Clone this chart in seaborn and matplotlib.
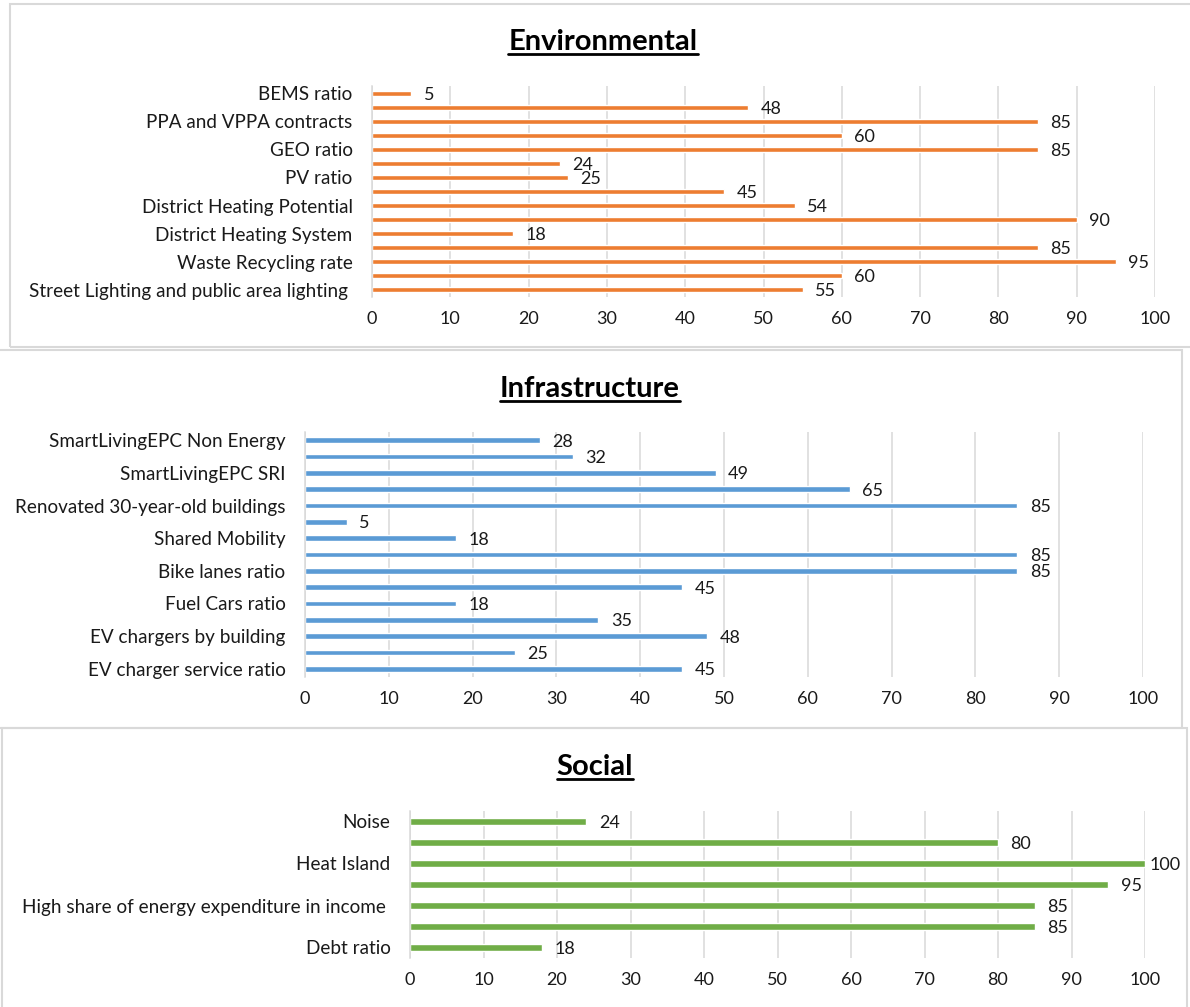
import numpy as np
import pandas as pd
import seaborn as sns
import matplotlib.pyplot as plt
from matplotlib.patches import Rectangle
from matplotlib.lines import Line2D

# data, top to bottom as in the chart ('' = category label hidden by Excel)
env_labels = ['BEMS ratio', '', 'PPA and VPPA contracts', '', 'GEO ratio', '', 'PV ratio', '',
              'District Heating Potential', '', 'District Heating System', '',
              'Waste Recycling rate', '', 'Street Lighting and public area lighting ']
env_values = [5, 48, 85, 60, 85, 24, 25, 45, 54, 90, 18, 85, 95, 60, 55]

infra_labels = ['SmartLivingEPC Non Energy', '', 'SmartLivingEPC SRI', '',
                'Renovated 30-year-old buildings', '', 'Shared Mobility', '',
                'Bike lanes ratio', '', 'Fuel Cars ratio', '', 'EV chargers by building', '',
                'EV charger service ratio']
infra_values = [28, 32, 49, 65, 85, 5, 18, 85, 85, 45, 18, 35, 48, 25, 45]

social_labels = ['Noise', '', 'Heat Island', '', 'High share of energy expenditure in income ', '',
                 'Debt ratio']
social_values = [24, 80, 100, 95, 85, 85, 18]

x_ticks = [0, 10, 20, 30, 40, 50, 60, 70, 80, 90, 100]

W, H = 1190, 1007
sns.set_style('white')
plt.rcParams['font.family'] = ['Lato', 'DejaVu Sans']

fig = plt.figure(figsize=(W / 100, H / 100), dpi=100)

def fx(x):
    return x / W

def fy(y):
    return 1 - y / H

# panel frames (pixel boxes: left, top, right, bottom)
frame_col = '#D9D9D9'
for l, t, r, b in [(10, 4, 1200, 347), (-5, 350, 1182, 728), (2, 728, 1187, 1015)]:
    fig.add_artist(Rectangle((fx(l), fy(b)), fx(r) - fx(l), fy(t) - fy(b),
                             transform=fig.transFigure, fill=False,
                             edgecolor=frame_col, lw=1.5))

panels = [
    ('Environmental', env_labels, env_values, '#ED7D31', (372, 86, 1155, 297), (603, 50)),
    ('Infrastructure', infra_labels, infra_values, '#5B9BD5', (305, 432, 1143, 677), (590, 397)),
    ('Social', social_labels, social_values, '#70AD47', (410, 811, 1145, 958), (595, 775)),
]

txt_col = '#1a1a1a'
titles = []
for title, labels, values, color, (x0, y0, x1, y1), (tx, ty) in panels:
    ax = fig.add_axes([fx(x0), fy(y1), fx(x1) - fx(x0), fy(y0) - fy(y1)])
    n = len(values)
    df = pd.DataFrame({'slot': np.arange(n), 'value': values})
    sns.barplot(data=df, x='value', y='slot', orient='h', color=color,
                saturation=1, width=0.36, ax=ax)
    ax.set_xlim(0, 100)
    ax.set_ylim(n - 0.5, -0.5)
    ax.set_xticks(x_ticks)
    ax.set_yticks(range(n))
    ax.set_yticklabels(labels)
    ax.set_xlabel('')
    ax.set_ylabel('')
    ax.grid(axis='x', color='#D9D9D9', lw=1.1)
    ax.set_axisbelow(True)
    for s in ['top', 'right', 'bottom']:
        ax.spines[s].set_visible(False)
    ax.spines['left'].set_color('#D9D9D9')
    ax.spines['left'].set_linewidth(1.1)
    ax.tick_params(length=0, colors=txt_col)
    ax.tick_params(axis='y', pad=14, labelsize=13.6)
    ax.tick_params(axis='x', pad=10, labelsize=13)
    pad = [3 if v >= 100 else 9 for v in values]
    for i, v in enumerate(values):
        ax.annotate(str(v), (v, i), xytext=(pad[i], 0), textcoords='offset points',
                    ha='left', va='center_baseline', fontsize=13, color=txt_col)
    t = fig.text(fx(tx), fy(ty), title, ha='center', va='baseline',
                 fontsize=21, fontweight='bold', color='black')
    titles.append((t, ty))

# underline titles
fig.canvas.draw()
renderer = fig.canvas.get_renderer()
for t, ty in titles:
    bb = t.get_window_extent(renderer)
    fig.add_artist(Line2D([bb.x0 / W, bb.x1 / W], [fy(ty + 4), fy(ty + 4)],
                          transform=fig.transFigure, color='black', lw=2))

fig.savefig('out.png', dpi=100)
